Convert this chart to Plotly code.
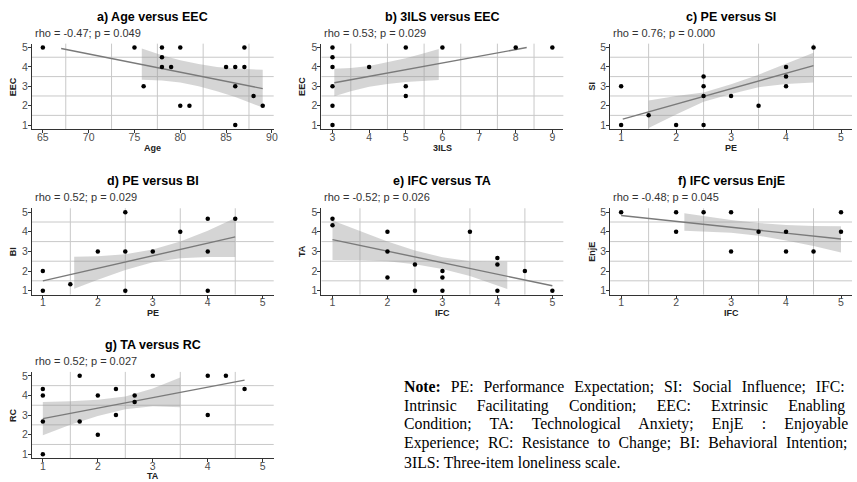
import plotly.graph_objects as go

W, H = 857, 482

# ── data ─────────────────────────────────────────────────────────────────────
# a) Age versus EEC
a_x = [65, 75, 76, 78, 78, 78, 79, 80, 80, 81, 85, 86, 86, 86, 87, 87, 88, 89]
a_y = [5, 5, 3, 5, 4.5, 4, 4, 5, 2, 2, 4, 4, 3, 1, 5, 4, 2.5, 2]
a_line_x = [67, 89]
a_line_y = [4.95, 2.88]
a_band_x = [75.8, 78, 80, 82, 84, 86, 89]
a_band_hi = [4.95, 4.6, 4.35, 4.15, 4.0, 3.92, 3.85]
a_band_lo = [3.34, 3.3, 3.2, 3.0, 2.75, 2.45, 1.9]

# b) 3ILS versus EEC
b_x = [3, 3, 3, 3, 3, 3, 4, 5, 5, 5, 6, 8, 9]
b_y = [5, 4.5, 4, 3, 2, 1, 4, 5, 3, 2.5, 5, 5, 5]
b_line_x = [3.05, 8.3]
b_line_y = [3.18, 5.0]
b_band_x = [3.05, 3.5, 4, 4.5, 5, 5.5, 5.9]
b_band_hi = [3.9, 3.95, 4.05, 4.25, 4.45, 4.7, 4.92]
b_band_lo = [2.48, 2.75, 2.98, 3.12, 3.22, 3.28, 3.32]

# c) PE versus SI
c_x = [1, 1, 1.5, 2, 2.5, 2.5, 2.5, 2.5, 3, 3.5, 4, 4, 4, 4.5]
c_y = [3, 1, 1.5, 1, 3.5, 3, 2.5, 1, 2.5, 2, 4, 3.5, 3, 5]
c_line_x = [1.03, 4.5]
c_line_y = [1.31, 4.07]
c_band_x = [1.5, 2, 2.5, 3, 3.5, 4, 4.5]
c_band_hi = [2.27, 2.5, 2.68, 3.1, 3.6, 4.15, 4.73]
c_band_lo = [0.85, 1.55, 2.2, 2.6, 2.95, 3.12, 3.2]

# d) PE versus BI
d_x = [1, 1, 1.5, 2, 2.5, 2.5, 2.5, 3, 3.5, 4, 4, 4, 4.5]
d_y = [2, 1, 1.33, 3, 5, 3, 1, 3, 4, 4.67, 3, 1, 4.67]
d_line_x = [1, 4.5]
d_line_y = [1.5, 3.74]
d_band_x = [1.57, 2, 2.5, 3, 3.5, 4, 4.5]
d_band_hi = [2.73, 2.75, 2.85, 3.1, 3.5, 4.05, 4.71]
d_band_lo = [1.1, 1.55, 2.05, 2.45, 2.65, 2.72, 2.72]

# e) IFC versus TA
e_x = [1, 1, 2, 2, 2, 2.5, 2.5, 3, 3, 3, 3.5, 4, 4, 4, 4.5, 5]
e_y = [4.67, 4.33, 4, 3, 1.67, 2.33, 1, 2, 1.67, 1, 4, 2.67, 2.33, 1, 2, 1]
e_line_x = [1, 5]
e_line_y = [3.6, 1.25]
e_band_x = [1, 1.5, 2, 2.5, 3, 3.5, 4.18]
e_band_hi = [4.58, 4.05, 3.5, 3.05, 2.7, 2.5, 2.47]
e_band_lo = [2.56, 2.55, 2.5, 2.35, 2.1, 1.75, 1.08]

# f) IFC versus EnjE
f_x = [1, 2, 2, 2.5, 3, 3, 3.5, 4, 4, 4.5, 5, 5]
f_y = [5, 5, 4, 5, 5, 3, 4, 4, 3, 3, 5, 4]
f_line_x = [1, 5]
f_line_y = [4.83, 3.63]
f_band_x = [2.15, 2.5, 3, 3.5, 4, 4.5, 5]
f_band_hi = [4.95, 4.8, 4.6, 4.45, 4.35, 4.3, 4.28]
f_band_lo = [4.05, 4.02, 3.95, 3.8, 3.55, 3.28, 2.95]

# g) TA versus RC
g_x = [1, 1, 1, 1, 1.67, 1.67, 2, 2, 2.33, 2.33, 2.67, 2.67, 3, 4, 4, 4.33, 4.67]
g_y = [4.33, 4, 2.67, 1, 5, 2.67, 4, 2, 4.33, 3, 4, 3.67, 5, 5, 3, 5, 4.33]
g_line_x = [1, 4.67]
g_line_y = [2.82, 4.78]
g_band_x = [1, 1.5, 2, 2.5, 3, 3.5]
g_band_hi = [3.66, 3.7, 3.78, 3.95, 4.35, 4.92]
g_band_lo = [1.97, 2.5, 2.95, 3.3, 3.45, 3.4]

panels = [
    ("a) Age versus EEC", "rho = -0.47; p = 0.049", "Age", "EEC",
     a_x, a_y, a_line_x, a_line_y, a_band_x, a_band_hi, a_band_lo),
    ("b) 3ILS versus EEC", "rho = 0.53; p = 0.029", "3ILS", "EEC",
     b_x, b_y, b_line_x, b_line_y, b_band_x, b_band_hi, b_band_lo),
    ("c) PE versus SI", "rho = 0.76; p = 0.000", "PE", "SI",
     c_x, c_y, c_line_x, c_line_y, c_band_x, c_band_hi, c_band_lo),
    ("d) PE versus BI", "rho = 0.52; p = 0.029", "PE", "BI",
     d_x, d_y, d_line_x, d_line_y, d_band_x, d_band_hi, d_band_lo),
    ("e) IFC versus TA", "rho = -0.52; p = 0.026", "IFC", "TA",
     e_x, e_y, e_line_x, e_line_y, e_band_x, e_band_hi, e_band_lo),
    ("f) IFC versus EnjE", "rho = -0.48; p = 0.045", "IFC", "EnjE",
     f_x, f_y, f_line_x, f_line_y, f_band_x, f_band_hi, f_band_lo),
    ("g) TA versus RC", "rho = 0.52; p = 0.027", "TA", "RC",
     g_x, g_y, g_line_x, g_line_y, g_band_x, g_band_hi, g_band_lo),
]

# note lines with the word spacing (px) that emulates the justified paragraph
note_lines = [
    ("<b>Note:</b> PE: Performance Expectation; SI: Social Influence; IFC:", 6),
    ("Intrinsic Facilitating Condition; EEC: Extrinsic Enabling", 16.2),
    ("Condition; TA: Technological Anxiety; EnjE : Enjoyable", 14.3),
    ("Experience; RC: Resistance to Change; BI: Behavioral Intention;", 4.5),
    ("3ILS: Three-item loneliness scale.", 0),
]

# ── layout geometry (pixels) ─────────────────────────────────────────────────
COLS = [(32, 275), (323, 566), (613, 856)]
ROWS = [(42, 128), (208, 295), (373, 460)]
YTITLE_X = [13, 304, 595]
XTITLE_Y = [147, 314, 478]

SANS = "Liberation Sans, Arial, sans-serif"
GRID = "#c8c8c8"
AXIS = "#333333"


def px_x(x):
    return x / W


def px_y(y):
    return 1 - y / H


def half_steps(lo, hi, t0, dt):
    # grid sits halfway between the labelled ticks (ggplot minor breaks)
    vals, v = [], t0 - dt / 2
    while v <= hi:
        if v >= lo:
            vals.append(v)
        v += dt
    return vals


fig = go.Figure()
annotations = []
shapes = []

for i, (title, rho, xlab, ylab, px, py, lx, ly, bx, bhi, blo) in enumerate(panels):
    row, col = divmod(i, 3)
    x0, x1 = COLS[col]
    y0, y1 = ROWS[row]
    n = "" if i == 0 else str(i + 1)
    xa, ya = "x" + n, "y" + n

    if i == 0:
        xr, xt0, xdt = [63.8, 90.2], 65, 5
    elif i == 1:
        xr, xt0, xdt = [2.7, 9.3], 3, 1
    else:
        xr, xt0, xdt = [0.8, 5.2], 1, 1
    yr = [0.8, 5.2]

    for gx in half_steps(xr[0], xr[1], xt0, xdt):
        shapes.append(dict(type="line", xref=xa, yref=ya + " domain",
                           x0=gx, x1=gx, y0=0, y1=1, layer="below",
                           line=dict(color=GRID, width=1)))
    for gy in half_steps(yr[0], yr[1], 1, 1):
        shapes.append(dict(type="line", xref=xa + " domain", yref=ya,
                           x0=0, x1=1, y0=gy, y1=gy, layer="below",
                           line=dict(color=GRID, width=1)))

    fig.add_trace(go.Scatter(
        x=bx + bx[::-1], y=bhi + blo[::-1], xaxis=xa, yaxis=ya,
        mode="lines", fill="toself", fillcolor="rgba(150,150,150,0.4)",
        line=dict(width=0), hoverinfo="skip", showlegend=False,
    ))
    fig.add_trace(go.Scatter(
        x=lx, y=ly, xaxis=xa, yaxis=ya, mode="lines",
        line=dict(color="#7a7a7a", width=1.4), showlegend=False,
    ))
    fig.add_trace(go.Scatter(
        x=px, y=py, xaxis=xa, yaxis=ya, mode="markers",
        marker=dict(color="black", size=4.5), showlegend=False,
    ))

    common = dict(
        showline=True, linecolor=AXIS, linewidth=1, mirror=False,
        ticks="outside", ticklen=3, tickcolor=AXIS, tickwidth=1,
        showgrid=False, zeroline=False,
        tickfont=dict(family=SANS, size=10.5, color="#4d4d4d"),
    )
    fig.update_layout(**{
        ("xaxis" + n): dict(
            common, domain=[px_x(x0), px_x(x1)], range=xr, anchor=ya,
            tickmode="linear", tick0=xt0, dtick=xdt, ticklabelstandoff=-5,
        ),
        ("yaxis" + n): dict(
            common, domain=[px_y(y1), px_y(y0)], range=yr, anchor=xa,
            tickmode="linear", tick0=1, dtick=1, ticklabelstandoff=-2,
        ),
    })

    annotations += [
        dict(text="<b>" + title + "</b>", x=px_x((x0 + x1) / 2), y=px_y(y0 - 27),
             xanchor="center", yanchor="middle",
             font=dict(family=SANS, size=12.5, color="black")),
        dict(text=rho, x=px_x(x0 + 1), y=px_y(y0 - 11),
             xanchor="left", yanchor="middle",
             font=dict(family=SANS, size=11, color="#333333")),
        dict(text="<b>" + xlab + "</b>", x=px_x((x0 + x1) / 2), y=px_y(XTITLE_Y[row]),
             xanchor="center", yanchor="middle",
             font=dict(family=SANS, size=9, color="#222222")),
        dict(text="<b>" + ylab + "</b>", x=px_x(YTITLE_X[col]), y=px_y((y0 + y1) / 2),
             xanchor="center", yanchor="middle", textangle=-90,
             font=dict(family=SANS, size=9, color="#222222")),
    ]

for k, (line, spacing) in enumerate(note_lines):
    annotations.append(dict(
        text='<span style="word-spacing:%.1fpx">%s</span>' % (spacing, line),
        x=px_x(404), y=px_y(388 + 19 * k),
        xanchor="left", yanchor="middle",
        font=dict(family="Liberation Serif, Times New Roman, serif", size=15.8, color="black"),
    ))

for a in annotations:
    a.update(xref="paper", yref="paper", showarrow=False)

fig.update_layout(
    width=W, height=H,
    margin=dict(l=0, r=0, t=0, b=0),
    paper_bgcolor="white", plot_bgcolor="white",
    annotations=annotations,
    shapes=shapes,
    showlegend=False,
)

fig.write_html(
    "out.html",
    config={"displayModeBar": False},
    post_script="document.body.style.margin='0';document.body.style.padding='0';",
)
